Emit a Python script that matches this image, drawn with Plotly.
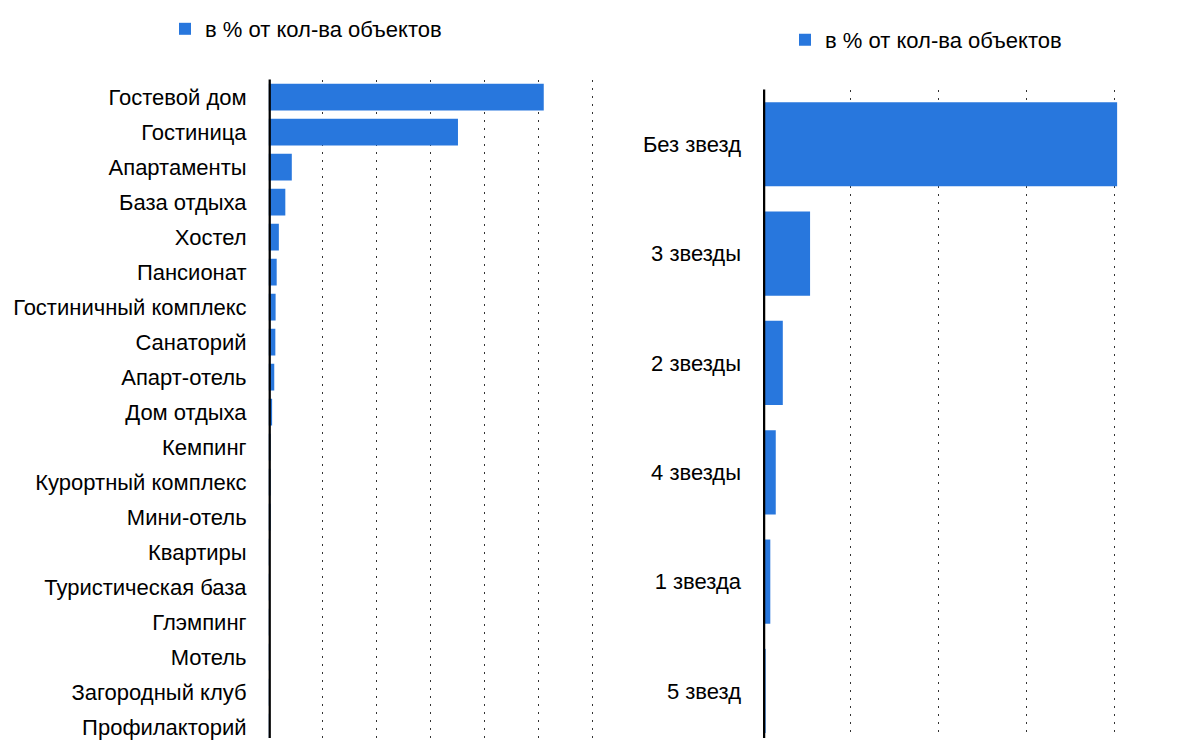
import plotly.graph_objects as go

# Left chart: types of accommodation
types = ["Гостевой дом", "Гостиница", "Апартаменты", "База отдыха", "Хостел",
         "Пансионат", "Гостиничный комплекс", "Санаторий", "Апарт-отель",
         "Дом отдыха", "Кемпинг", "Курортный комплекс", "Мини-отель", "Квартиры",
         "Туристическая база", "Глэмпинг", "Мотель", "Загородный клуб", "Профилакторий"]
types_pct = [51.0, 35.1, 4.3, 3.1, 1.9, 1.5, 1.3, 1.25, 1.05,
             0.65, 0.3, 0.25, 0.2, 0.15, 0.1, 0.1, 0.05, 0.05, 0.05]

# Right chart: star categories
stars = ["Без звезд", "3 звезды", "2 звезды", "4 звезды", "1 звезда", "5 звезд"]
stars_pct = [80.5, 10.7, 4.5, 2.9, 1.66, 0.6]

series_name = "в % от кол-ва объектов"
BAR = "#2877dd"
FONT = "Liberation Sans, Arial, sans-serif"
W, H = 1187, 732   # page body has an 8px margin

fig = go.Figure()
fig.add_trace(go.Bar(y=types, x=types_pct, orientation="h", name=series_name,
                     marker=dict(color=BAR, line=dict(width=0)),
                     xaxis="x", yaxis="y", legend="legend"))
fig.add_trace(go.Bar(y=stars, x=stars_pct, orientation="h", name=series_name,
                     marker=dict(color=BAR, line=dict(width=0)),
                     xaxis="x2", yaxis="y2", legend="legend2"))

# left plot geometry (figure pixel coords)
lx0, lx1 = 260.6 / W, 589 / W
ltop = (H - 70) / H
# right plot geometry
rx0 = 755 / W
rtop = (H - 80) / H

grid = dict(showgrid=True, gridcolor="#333333", gridwidth=1, griddash="2px,6px",
            zeroline=False, showline=False, showticklabels=False, ticks="")

fig.update_layout(
    width=W, height=H,
    margin=dict(l=0, r=0, t=0, b=0),
    paper_bgcolor="white", plot_bgcolor="white",
    font=dict(family=FONT, size=22, color="black"),
    bargap=0.23,
    xaxis=dict(domain=[lx0, lx1], range=[0, 60.87], dtick=10, anchor="y", **grid),
    yaxis=dict(domain=[0, ltop], anchor="x", range=[18.31, -0.5],
               showgrid=False, zeroline=False, showline=False, ticks="",
               ticklabelstandoff=21, tickfont=dict(size=22)),
    xaxis2=dict(domain=[rx0, 1.0], range=[0, 98.2], dtick=20, anchor="y2", **grid),
    yaxis2=dict(domain=[0, rtop], anchor="x2", range=[5.43, -0.5],
                showgrid=False, zeroline=False, showline=False, ticks="",
                ticklabelstandoff=21, tickfont=dict(size=22)),
    legend=dict(x=157 / W, y=1 - 19 / H, xanchor="left", yanchor="middle",
                font=dict(size=22), bgcolor="rgba(0,0,0,0)"),
    legend2=dict(x=777 / W, y=1 - 30 / H, xanchor="left", yanchor="middle",
                 font=dict(size=22), bgcolor="rgba(0,0,0,0)"),
    showlegend=True,
)

# thick black zero lines drawn above bars
fig.add_shape(type="line", xref="x", yref="y domain", x0=0, x1=0, y0=0, y1=1,
              line=dict(color="black", width=4.5), layer="above")
fig.add_shape(type="line", xref="x2", yref="y2 domain", x0=0, x1=0, y0=0, y1=1,
              line=dict(color="black", width=4.5), layer="above")

fig.write_html("out.html")
